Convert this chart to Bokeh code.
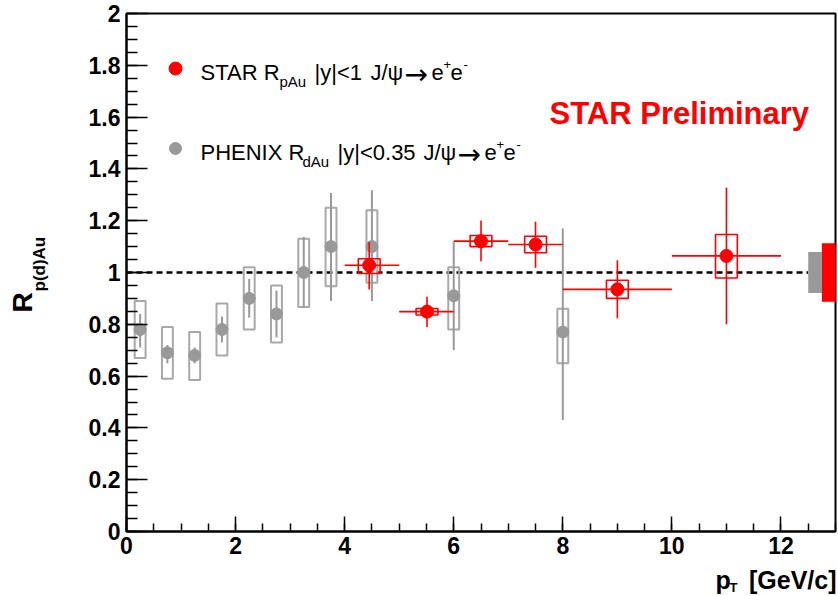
import numpy as np
from bokeh.plotting import figure
from bokeh.models import Range1d, SingleIntervalTicker, Label, CustomJSTickFormatter, BoxAnnotation
from bokeh.embed import file_html
from bokeh.resources import INLINE

# ---------------- data ----------------
phenix_pt = [0.25, 0.75, 1.25, 1.75, 2.25, 2.75, 3.25, 3.75, 4.5, 6.0, 8.0]
phenix_r = [0.78, 0.69, 0.68, 0.78, 0.90, 0.84, 1.00, 1.10, 1.10, 0.91, 0.77]
phenix_stat_lo = [0.71, 0.65, 0.65, 0.73, 0.825, 0.75, 0.863, 0.89, 0.89, 0.70, 0.43]
phenix_stat_hi = [0.84, 0.72, 0.71, 0.83, 0.975, 0.93, 1.137, 1.307, 1.318, 1.12, 1.17]
phenix_sys_lo = [0.67, 0.59, 0.585, 0.68, 0.78, 0.73, 0.867, 0.947, 0.96, 0.78, 0.65]
phenix_sys_hi = [0.89, 0.79, 0.77, 0.88, 1.02, 0.95, 1.13, 1.25, 1.24, 1.02, 0.86]

star_pt = [4.45, 5.51, 6.5, 7.5, 9.0, 11.0]
star_bin_lo = [4, 5, 6, 7, 8, 10]
star_bin_hi = [5, 6, 7, 8, 10, 12]
star_r = [1.028, 0.849, 1.121, 1.108, 0.935, 1.064]
star_stat_lo = [0.934, 0.79, 1.043, 1.018, 0.823, 0.80]
star_stat_hi = [1.118, 0.906, 1.201, 1.196, 1.047, 1.327]
star_sys_lo = [0.996, 0.836, 1.10, 1.076, 0.90, 0.979]
star_sys_hi = [1.053, 0.861, 1.143, 1.14, 0.97, 1.147]

global_phenix = 0.079
global_star = 0.113

x_axis_range = (0, 13)
y_axis_range = (0, 2)
x_ticks_interval = 2
y_ticks_interval = 0.2

# ---------------- style / layout ----------------
RED = "#ff0000"
GRAY = "#999999"
BOX_GRAY = "#a8a8a8"
FONT = "Liberation Sans"

W, H = 838, 596
FL, FR, FT, FB = 126, 835, 13, 531  # pixel edges of the axes box
XMIN, XMAX = x_axis_range
YMIN, YMAX = y_axis_range


def sx(px):
    return XMIN + (px - FL) / (FR - FL) * (XMAX - XMIN)


def sy(py):
    return YMIN + (FB - py) / (FB - FT) * (YMAX - YMIN)


# the drawing area spans the whole canvas; the axes sit at fixed data locations
p = figure(width=W, height=H,
           x_range=Range1d(sx(0), sx(W)), y_range=Range1d(sy(H), sy(0)),
           output_backend="svg", toolbar_location=None,
           min_border_left=0, min_border_right=0, min_border_top=0, min_border_bottom=0)
p.grid.visible = False
p.background_fill_color = "white"
p.border_fill_color = "white"
p.outline_line_color = None

p.xaxis.fixed_location = YMIN
p.yaxis.fixed_location = XMIN
p.xaxis.bounds = x_axis_range
p.yaxis.bounds = y_axis_range
p.xaxis.ticker = SingleIntervalTicker(interval=x_ticks_interval, num_minor_ticks=4)
p.yaxis.ticker = SingleIntervalTicker(interval=y_ticks_interval, num_minor_ticks=4)
fmt = CustomJSTickFormatter(code="return Number(tick.toFixed(2)).toString();")
p.xaxis.formatter = fmt
p.yaxis.formatter = fmt
for ax in (p.xaxis, p.yaxis):
    ax.axis_line_width = 2
    ax.axis_line_color = "black"
    ax.major_tick_line_width = 1.5
    ax.minor_tick_line_width = 1.5
    ax.major_tick_out = 0
    ax.minor_tick_out = 0
    ax.major_label_text_font = FONT
    ax.major_label_text_font_style = "bold"
    ax.major_label_text_font_size = "23px"
    ax.major_label_text_color = "black"
p.yaxis.major_tick_in = 21
p.yaxis.minor_tick_in = 11
p.xaxis.major_tick_in = 15
p.xaxis.minor_tick_in = 8
p.yaxis.major_label_standoff = 6
p.xaxis.major_label_standoff = 5

# axes box
p.add_layout(BoxAnnotation(left=XMIN, right=XMAX, bottom=YMIN, top=YMAX, fill_alpha=0,
                           line_color="black", line_alpha=1.0, line_width=2, level="underlay"))

# unity line
p.segment(x0=[0], y0=[1], x1=[12.5], y1=[1], line_color="black", line_width=2.5, line_dash="6 4")

# PHENIX
ph_pt = np.array(phenix_pt)
p.quad(left=ph_pt - 0.1, right=ph_pt + 0.1, bottom=phenix_sys_lo, top=phenix_sys_hi,
       fill_color=None, line_color=BOX_GRAY, line_width=2)
p.segment(x0=ph_pt, y0=phenix_stat_lo, x1=ph_pt, y1=phenix_stat_hi, line_color=GRAY, line_width=2)
p.scatter(ph_pt, phenix_r, size=12, fill_color=GRAY, line_color=GRAY)

# global uncertainty boxes
p.quad(left=[12.5], right=[12.75], bottom=[1 - global_phenix], top=[1 + global_phenix],
       fill_color=GRAY, line_color=None)
p.quad(left=[12.75], right=[13.0], bottom=[1 - global_star], top=[1 + global_star],
       fill_color=RED, line_color=None)

# STAR
st_pt = np.array(star_pt)
p.quad(left=st_pt - 0.2, right=st_pt + 0.2, bottom=star_sys_lo, top=star_sys_hi,
       fill_color=None, line_color=RED, line_width=1.6)
p.segment(x0=st_pt, y0=star_stat_lo, x1=st_pt, y1=star_stat_hi, line_color=RED, line_width=1.6)
p.segment(x0=star_bin_lo, y0=star_r, x1=star_bin_hi, y1=star_r, line_color=RED, line_width=1.6)
p.scatter(st_pt, star_r, size=13, fill_color=RED, line_color=RED)

# legend markers
p.scatter([sx(175)], [sy(68)], size=13, fill_color=RED, line_color=RED)
p.scatter([sx(175)], [sy(148)], size=12, fill_color=GRAY, line_color=GRAY)


def lab(px, py, text, size, color="black", style="normal", angle=0.0, align="left", font=FONT):
    p.add_layout(Label(x=sx(px), y=sy(py), text=text, text_font=font, text_font_size=f"{size}px",
                       text_font_style=style, text_color=color, text_align=align,
                       text_baseline="alphabetic", angle=angle))


# legend text
lab(200, 72, "STAR R", 22)
lab(279, 81, "pAu", 15)
lab(314, 72, "|y|<1", 22)
lab(370, 72, "J/ψ", 22)
lab(404, 74, "→", 28, font="DejaVu Sans")
lab(431, 72, "e", 22)
lab(443, 64, "+", 13)
lab(450, 72, "e", 22)
lab(463, 64, "-", 13)

lab(200, 152, "PHENIX R", 22)
lab(302, 161, "dAu", 15)
lab(337, 152, "|y|<0.35", 22)
lab(423, 152, "J/ψ", 22)
lab(457, 154, "→", 28, font="DejaVu Sans")
lab(484, 152, "e", 22)
lab(496, 144, "+", 13)
lab(503, 152, "e", 22)
lab(516, 144, "-", 13)

# STAR Preliminary
lab(549, 113, "STAR Preliminary", 31, color=RED, style="bold")

# axis titles
lab(22, 312, "R", 28, style="bold", angle=np.pi / 2)
lab(39, 291, "p(d)Au", 17, style="bold", angle=np.pi / 2)
lab(715, 579, "p", 25, style="bold")
lab(729, 587, "T", 13, style="bold")
lab(836, 579, "[GeV/c]", 25, style="bold", align="right")

open("out.html", "w").write(file_html(p, INLINE))
